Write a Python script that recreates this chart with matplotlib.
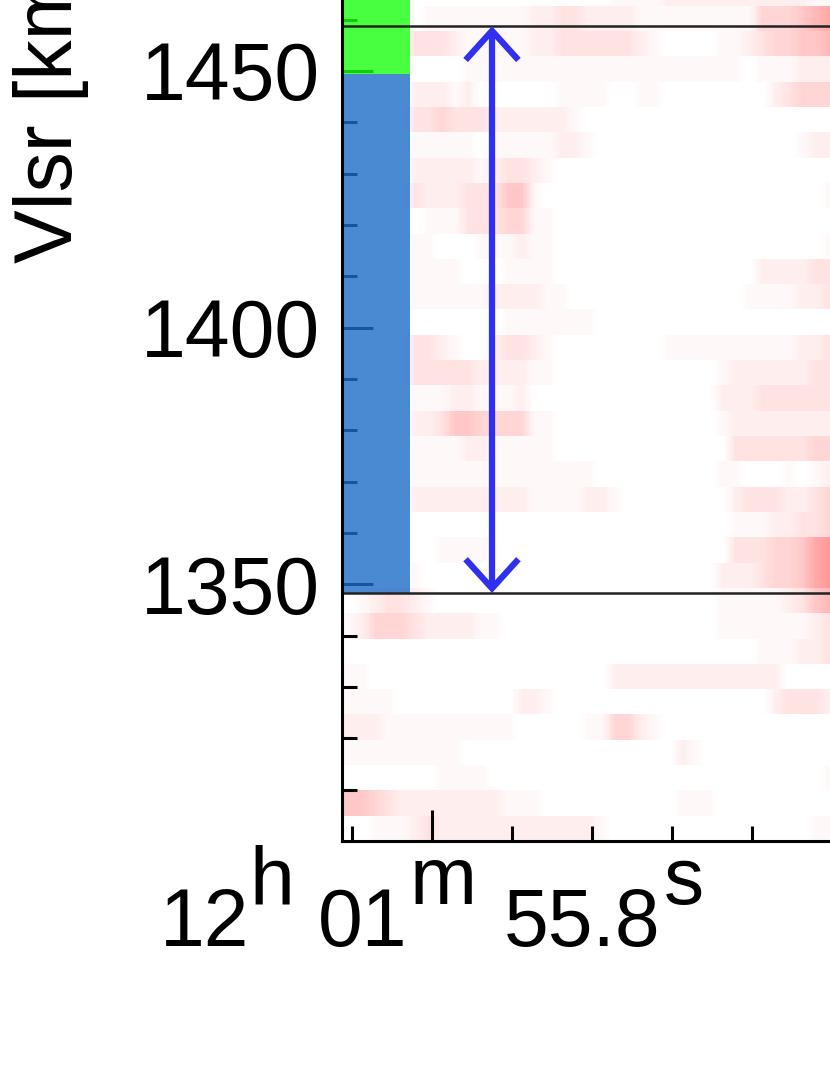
import numpy as np
import matplotlib
matplotlib.use("Agg")
import matplotlib.pyplot as plt
from matplotlib.colors import LinearSegmentedColormap, PowerNorm
from matplotlib.patches import Rectangle

plt.rcParams['font.family'] = ['Liberation Sans', 'DejaVu Sans']

# channel map read by eye, top row first, 0 = white
rows = [
    "00000 00000 00000 00000 11112 22222 22222 11",
    "00000 01111 11112 23322 22111 11111 14445 67",
    "00000 33321 11112 23333 33210 00011 23445 56",
    "00000 00001 11111 11111 11111 11111 01112 22",
    "00000 22212 00000 01111 00110 00000 00234 44",
    "00000 33433 32222 22100 00000 00000 00000 00",
    "00000 11111 01111 12210 00000 00000 00001 22",
    "00000 22222 12332 10000 00000 00000 00000 00",
    "00000 32223 33551 00000 00000 00000 00000 01",
    "00000 01113 33441 10000 00000 00000 00000 00",
    "00000 11000 11121 10000 00000 00000 00000 01",
    "00000 11110 00111 10000 00000 00000 02222 33",
    "00000 11111 12222 11000 00000 00000 11112 23",
    "00000 00000 00111 11110 00000 00000 00000 00",
    "00000 33210 02332 10000 00001 11111 11112 23",
    "00000 33333 22221 10000 00000 00012 22222 33",
    "00000 11122 11120 00000 00000 00022 23333 33",
    "00000 22355 44441 10000 00000 00012 22222 22",
    "00000 11112 21111 10000 00000 00003 33333 44",
    "00000 11111 11111 11110 00000 00011 00010 12",
    "00000 22222 22221 11122 10000 00002 33322 34",
    "00000 00000 00000 00000 00000 00001 11223 34",
    "00000 00111 10000 00000 00000 00003 33445 78",
    "00000 10000 00000 00000 00000 00022 23445 78",
    "01233 21000 00000 00000 00000 00011 11123 56",
    "12444 32222 11000 00000 00000 00011 11111 23",
    "00000 00000 00000 00000 00000 00000 01112 23",
    "11000 00000 00000 00000 22222 22222 22200 00",
    "11110 00000 00022 10000 00000 00000 00233 32",
    "22211 11111 11100 00011 44210 00000 00000 00",
    "11111 11110 00000 00000 00000 21000 00000 00",
    "00000 00111 10000 00000 00000 00000 00000 01",
    "55432 22222 22111 00000 00000 11100 00000 00",
    "00111 23222 22222 22221 00000 00000 00000 11",
]
vel_start = 1300
vel_step = 4.93
ra_start = 55.845
ra_step = 0.00667
y_major = [1350, 1400, 1450]
y_minor = [1310, 1320, 1330, 1340, 1360, 1370, 1380, 1390, 1410, 1420, 1430, 1440, 1460]
x_major = [55.8]
x_minor = [55.84, 55.76, 55.72, 55.68, 55.64]
box_low = 1348.3
box_high = 1458.7
bar_split = 1449.4
bar_edge = 55.811
arrow_ra = 55.77
# pieces of the RA label: text, left x and baseline y in pixels
ra_label = [("12", 160, 946), ("h", 249, 904), ("01", 318, 946), ("m", 410, 904),
            ("55.8", 504, 946), ("s", 664, 904)]

values = np.array([[int(c) for c in r.replace(" ", "")] for r in rows])[::-1]

# soften the cells sideways only, the reference is blurred along RA but not in velocity
sub = 5
fine = np.repeat(values, sub, axis=1).astype(float)
kernel = np.ones(sub) / sub
fine = np.array([np.convolve(np.pad(r, sub, mode='edge'), kernel, mode='same')[sub:-sub] for r in fine])
x_edges = ra_start - ra_step / sub * np.arange(fine.shape[1] + 1)
y_edges = vel_start + vel_step * np.arange(values.shape[0] + 1)

fig = plt.figure(figsize=(8.3, 10.75), dpi=100)
ax = fig.add_axes([342 / 830, (1075 - 841) / 1075, 488 / 830, 841 / 1075])

cmap = LinearSegmentedColormap.from_list("pink", ["#ffffff", "#ff8787"])
ax.pcolormesh(x_edges, y_edges, fine, cmap=cmap, norm=PowerNorm(1.3, vmin=0, vmax=9), zorder=1)

ax.set_xlim(ra_start, 55.601)
ax.set_ylim(1300, 1463.8)

# coloured bars sit over the ticks, that is why the ticks look tinted
ax.add_patch(Rectangle((ra_start, box_low), bar_edge - ra_start, bar_split - box_low,
                       fc=(29 / 255, 109 / 255, 199 / 255), ec='none', alpha=0.8, zorder=3))
ax.add_patch(Rectangle((ra_start, bar_split), bar_edge - ra_start, 1463.8 - bar_split,
                       fc=(26 / 255, 1, 16 / 255), ec='none', alpha=0.8, zorder=3))

ax.axhline(box_low, color='#222222', lw=1.8, zorder=3.5)
ax.axhline(box_high, color='#222222', lw=1.8, zorder=3.5)
ax.annotate('', xy=(arrow_ra, box_high), xytext=(arrow_ra, box_low),
            arrowprops=dict(arrowstyle='<->,head_length=2.1,head_width=1.9', color='#3030f0',
                            lw=4.5, shrinkA=0, shrinkB=0, capstyle='butt', joinstyle='miter'), zorder=4)

ax.spines['top'].set_visible(False)
ax.spines['right'].set_visible(False)
for s in ['left', 'bottom']:
    ax.spines[s].set_linewidth(2.2)
    ax.spines[s].set_zorder(4)

ax.set_yticks(y_major)
ax.set_yticks(y_minor, minor=True)
ax.set_xticks(x_major)
ax.set_xticks(x_minor, minor=True)
ax.set_yticklabels([str(v) for v in y_major])
ax.set_xticklabels([''])
ax.tick_params(axis='both', which='major', direction='in', length=22, width=2.2, labelsize=58)
ax.tick_params(axis='both', which='minor', direction='in', length=11, width=2.2)
ax.tick_params(axis='y', which='major', pad=16)

for txt, px, py in ra_label:
    fig.text(px / 830, 1 - py / 1075, txt, fontsize=58, ha='left', va='baseline')

fig.text(72 / 830, 1 - 263 / 1075, 'Vlsr [km/s]', rotation=90, fontsize=58,
         ha='left', va='baseline', rotation_mode='anchor')

fig.savefig('out.png', dpi=100)
